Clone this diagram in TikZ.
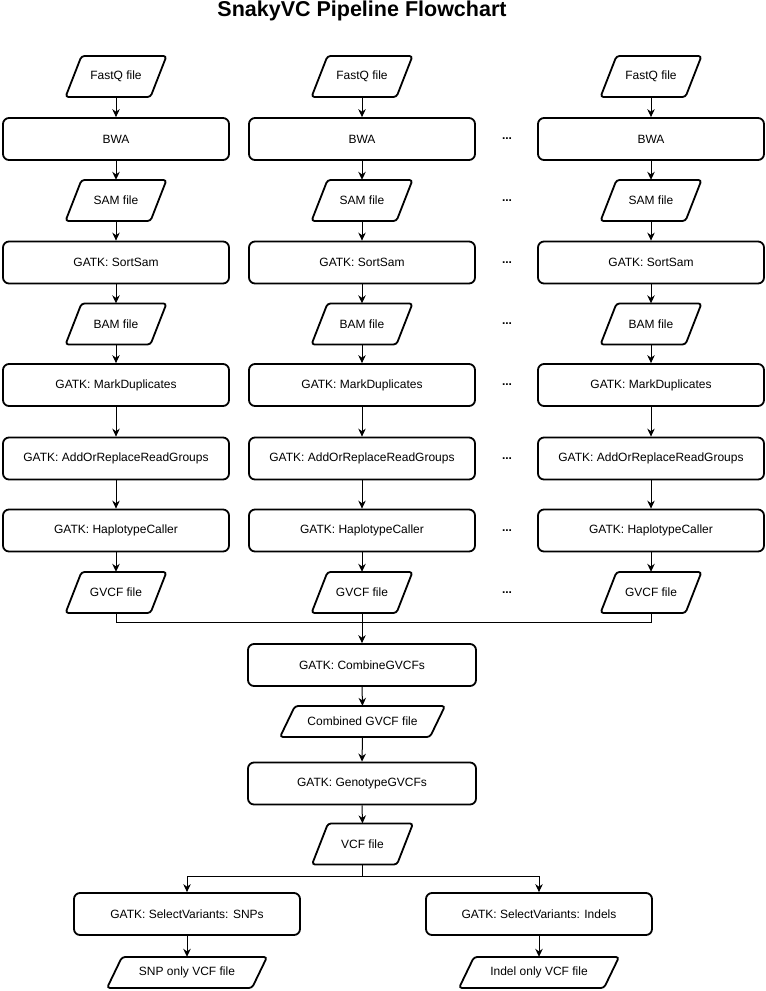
\documentclass[tikz,border=0pt]{standalone}
\usepackage{fontspec}
\setmainfont{Liberation Sans}
\usetikzlibrary{arrows.meta,calc}
\newcommand{\IOnode}[7]{%
  \node[iotext, minimum height=#5pt] (#1) at (#2,#3) {#7};
  \draw[ioline] (#2-#4/2, #3+#5/2) -- (#2+#4/2-#6, #3+#5/2) -- (#2+#4/2, #3-#5/2) -- (#2-#4/2+#6, #3-#5/2) -- cycle;
}
\begin{document}
\begin{tikzpicture}[x=1pt,y=-1pt,
  box/.style={draw, line width=1.8pt, rounded corners=6pt, minimum width=226pt, minimum height=42pt, inner sep=0pt, font=\fontsize{12}{14}\selectfont},
  iotext/.style={inner sep=0pt, minimum width=60pt, font=\fontsize{12}{14}\selectfont},
  ioline/.style={line width=1.8pt, rounded corners=3pt},
  conn/.style={line width=1pt, -{Stealth[length=8pt,width=7.5pt]}},
  wire/.style={line width=1pt},
  dots/.style={font=\bfseries\fontsize{12}{14}\selectfont, inner sep=0pt}]
\useasboundingbox (0,0) rectangle (766,991);

\node[font=\bfseries\fontsize{21.5}{24}\selectfont, anchor=base] (title) at (362,16.7) {SnakyVC Pipeline Flowchart};

% columns
\foreach \c/\x in {1/116, 2/362, 3/651} {
  \IOnode{fq\c}{\x}{76.5}{101}{41}{16}{FastQ file}
  \node[box] (bwa\c) at (\x,139) {BWA};
  \IOnode{sam\c}{\x}{200.5}{101}{41}{16}{SAM file}
  \node[box] (sort\c) at (\x,262.5) {GATK: SortSam};
  \IOnode{bam\c}{\x}{324}{101}{41}{16}{BAM file}
  \node[box] (mdup\c) at (\x,385) {GATK: MarkDuplicates};
  \node[box] (addrg\c) at (\x,458.5) {GATK: AddOrReplaceReadGroups};
  \node[box] (hc\c) at (\x,530.5) {GATK: HaplotypeCaller};
  \IOnode{gv\c}{\x}{592.5}{101}{41}{16}{GVCF file}
  \draw[conn] (fq\c.south) -- (bwa\c.north);
  \draw[conn] (bwa\c.south) -- (sam\c.north);
  \draw[conn] (sam\c.south) -- (sort\c.north);
  \draw[conn] (sort\c.south) -- (bam\c.north);
  \draw[conn] (bam\c.south) -- (mdup\c.north);
  \draw[conn] (mdup\c.south) -- (addrg\c.north);
  \draw[conn] (addrg\c.south) -- (hc\c.north);
  \draw[conn] (hc\c.south) -- (gv\c.north);
}

% ellipses between middle and right column
\foreach \n/\y in {d1/139, d2/200.5, d3/262.5, d4/324, d5/385, d6/458.5, d7/530.5, d8/592.5} {
  \node[dots] (\n) at (507,\y) {...};
}

% merge
\coordinate (mrg) at (362,622);
\node[box, minimum width=228pt] (comb) at (362,665) {GATK: CombineGVCFs};
\draw[wire] (gv1.south) -- (gv1.south |- mrg) -- (gv3.south |- mrg) -- (gv3.south);
\draw[conn] (gv2.south) -- (comb.north);

\IOnode{cgv}{362.5}{721.5}{165}{31}{15}{Combined GVCF file}
\node[box, minimum width=228pt] (geno) at (362,783.5) {GATK: GenotypeGVCFs};
\IOnode{vcf}{362.5}{844}{101}{41}{16}{VCF file}
\draw[conn] (comb.south) -- (cgv.north);
\draw[conn] (cgv.south) -- (geno.north);
\draw[conn] (geno.south) -- (vcf.north);

% split
\coordinate (spl) at (362.5,876);
\node[box] (selS) at (187,914) {GATK: SelectVariants: SNPs};
\node[box] (selI) at (539,914) {GATK: SelectVariants: Indels};
\draw[wire] (vcf.south) -- (spl);
\draw[conn] (spl) -| (selS.north);
\draw[conn] (spl) -| (selI.north);

\IOnode{snp}{187}{972.5}{160}{31}{15}{SNP only VCF file}
\IOnode{ind}{539}{972.5}{160}{31}{15}{Indel only VCF file}
\draw[conn] (selS.south) -- (snp.north);
\draw[conn] (selI.south) -- (ind.north);
\end{tikzpicture}
\end{document}
